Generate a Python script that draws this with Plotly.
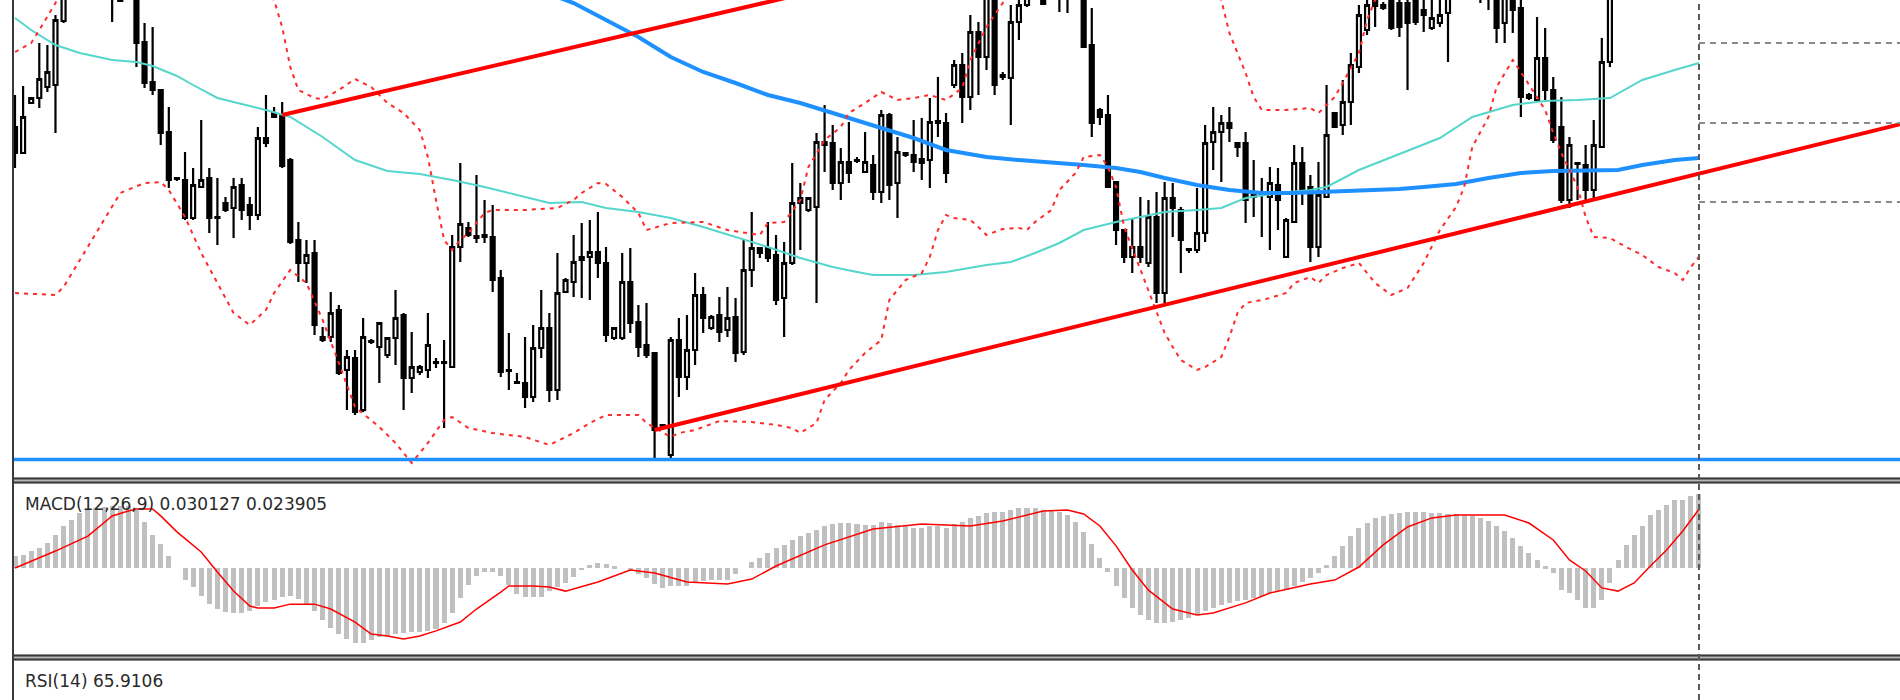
import plotly.graph_objects as go

# ---------------- price data (bar index = time) ----------------
opens = [
 1.2873,1.2847,1.2897,1.2902,1.2913,1.2915,1.2979,1.3005,1.3020,1.3035,
 1.3030,1.3040,1.3025,1.3010,1.3002,1.3008,1.2958,1.2918,1.2910,1.2868,
 1.2822,1.2820,1.2782,1.2813,1.2822,1.2783,1.2797,1.2792,1.2815,1.2795,
 1.2785,1.2862,1.2887,1.2885,1.2840,1.2760,1.2737,1.2747,1.2663,1.2663,
 1.2690,1.2630,1.2642,1.2590,1.2658,1.2653,1.2645,1.2662,1.2685,1.2622,
 1.2628,1.2630,1.2638,1.2638,1.2633,1.2753,1.2772,1.2764,1.2765,1.2763,
 1.2722,1.2630,1.2618,1.2617,1.2603,1.2652,1.2672,1.2610,1.2708,1.2718,
 1.2740,1.2743,1.2748,1.2737,1.2662,1.2662,1.2718,1.2678,1.2655,1.2647,
 1.2575,1.2545,1.2660,1.2623,1.2650,1.2705,1.2672,1.2685,1.2670,1.2683,
 1.2648,1.2730,1.2752,1.2752,1.2745,1.2702,1.2737,1.2802,1.2790,1.2793,
 1.2858,1.2857,1.2817,1.2838,1.2840,1.2828,1.2835,1.2808,1.2885,1.2817,
 1.2847,1.2845,1.2841,1.2840,1.2879,1.2877,1.2915,1.2935,1.2903,1.2968,
 1.2943,1.3005,1.2925,1.2922,1.2978,1.2995,1.3015,1.3008,1.3010,1.3005,
 1.3005,1.3008,1.3005,1.2955,1.2890,1.2885,1.2818,1.2770,1.2743,1.2753,
 1.2737,1.2783,1.2707,1.2802,1.2790,1.2750,1.2750,1.2767,1.2858,1.2868,
 1.2877,1.2857,1.2857,1.2805,1.2807,1.2803,1.2815,1.2743,1.2778,1.2837,
 1.2813,1.2753,1.2803,1.2887,1.2875,1.2898,1.2933,1.2970,1.3003,1.2995,
 1.3005,1.2997,1.2997,1.3003,1.2990,1.2972,1.2977,1.2987,1.3005,1.3015,
 1.3010,1.3020,1.3008,1.3005,1.2977,1.3005,1.2992,1.2905,1.2900,1.2942,
 1.2910,1.2873,1.2800,1.2837,1.2835,1.2810,1.2853,1.2938,1.3005,1.3030,
 1.3050,1.3045,1.3070,1.3090,1.3085,1.3110,1.3125,1.3115,1.3140]
highs = [
 1.2905,1.2914,1.2903,1.2957,1.2955,1.2985,1.3010,1.3030,1.3045,1.3050,
 1.3055,1.3050,1.3030,1.3015,1.3020,1.3012,1.2977,1.2973,1.2910,1.2893,
 1.2823,1.2848,1.2832,1.2880,1.2832,1.2822,1.2803,1.2822,1.2822,1.2803,
 1.2873,1.2905,1.2893,1.2898,1.2842,1.2778,1.2760,1.2760,1.2673,1.2708,
 1.2695,1.2650,1.2650,1.2682,1.2661,1.2678,1.2663,1.2710,1.2687,1.2668,
 1.2635,1.2687,1.2642,1.2660,1.2765,1.2837,1.2778,1.2825,1.2800,1.2795,
 1.2730,1.2667,1.2627,1.2663,1.2675,1.2710,1.2687,1.2747,1.2722,1.2765,
 1.2777,1.2780,1.2788,1.2753,1.2673,1.2747,1.2752,1.2695,1.2697,1.2647,
 1.2576,1.2663,1.2682,1.2685,1.2727,1.2713,1.2685,1.2703,1.2713,1.2702,
 1.2760,1.2788,1.2753,1.2778,1.2765,1.2758,1.2837,1.2817,1.2803,1.2867,
 1.2895,1.2875,1.2852,1.2878,1.2843,1.2868,1.2845,1.2890,1.2887,1.2863,
 1.2848,1.2880,1.2882,1.2902,1.2923,1.2887,1.2940,1.2947,1.2985,1.2978,
 1.3010,1.3010,1.2928,1.2995,1.3003,1.3008,1.3035,1.3015,1.3025,1.3025,
 1.3020,1.3020,1.3010,1.2992,1.2892,1.2905,1.2818,1.2770,1.2782,1.2803,
 1.2800,1.2808,1.2818,1.2817,1.2793,1.2752,1.2812,1.2875,1.2893,1.2885,
 1.2893,1.2858,1.2868,1.2840,1.2822,1.2833,1.2832,1.2782,1.2855,1.2853,
 1.2825,1.2838,1.2915,1.2888,1.2920,1.2947,1.2995,1.3003,1.3010,1.2998,
 1.3010,1.3005,1.3005,1.3010,1.3003,1.3003,1.3003,1.3010,1.3025,1.3030,
 1.3030,1.3030,1.3020,1.3010,1.3010,1.3010,1.3000,1.2907,1.2983,1.2972,
 1.2923,1.2903,1.2863,1.2838,1.2855,1.2880,1.2962,1.3015,1.3040,1.3060,
 1.3062,1.3075,1.3100,1.3100,1.3120,1.3135,1.3140,1.3150,1.3160]
lows = [
 1.2832,1.2846,1.2896,1.2892,1.2908,1.2867,1.2977,1.3003,1.3018,1.3022,
 1.3025,1.3020,1.2978,1.2998,1.3001,1.2933,1.2912,1.2905,1.2855,1.2812,
 1.2819,1.2780,1.2780,1.2813,1.2767,1.2755,1.2788,1.2762,1.2780,1.2770,
 1.2780,1.2853,1.2882,1.2832,1.2756,1.2718,1.2717,1.2665,1.2658,1.2658,
 1.2625,1.2590,1.2585,1.2588,1.2656,1.2617,1.2642,1.2635,1.2590,1.2607,
 1.2625,1.2622,1.2632,1.2572,1.2632,1.2738,1.2763,1.2757,1.2757,1.2708,
 1.2623,1.2610,1.2617,1.2592,1.2598,1.2642,1.2598,1.2600,1.2707,1.2703,
 1.2702,1.2700,1.2722,1.2658,1.2660,1.2660,1.2667,1.2643,1.2642,1.2542,
 1.2571,1.2540,1.2603,1.2610,1.2635,1.2667,1.2670,1.2658,1.2663,1.2638,
 1.2645,1.2713,1.2742,1.2738,1.2695,1.2663,1.2735,1.2750,1.2788,1.2697,
 1.2828,1.2810,1.2800,1.2817,1.2837,1.2827,1.2800,1.2797,1.2800,1.2782,
 1.2843,1.2828,1.2820,1.2812,1.2863,1.2817,1.2912,1.2877,1.2890,1.2905,
 1.2930,1.2905,1.2920,1.2875,1.2960,1.2993,1.3005,1.2995,1.3003,1.2988,
 1.2987,1.3001,1.2952,1.2863,1.2875,1.2812,1.2755,1.2737,1.2727,1.2737,
 1.2733,1.2697,1.2697,1.2763,1.2727,1.2747,1.2747,1.2758,1.2830,1.2818,
 1.2858,1.2843,1.2777,1.2783,1.2763,1.2750,1.2770,1.2742,1.2777,1.2795,
 1.2738,1.2743,1.2802,1.2872,1.2865,1.2875,1.2927,1.2965,1.2973,1.2990,
 1.2970,1.2963,1.2910,1.2975,1.2968,1.2970,1.2973,1.2938,1.3002,1.3005,
 1.3005,1.2997,1.2990,1.2957,1.2957,1.2967,1.2883,1.2900,1.2900,1.2900,
 1.2857,1.2797,1.2792,1.2800,1.2800,1.2800,1.2853,1.2933,1.3002,1.3028,
 1.3040,1.3043,1.3065,1.3080,1.3082,1.3105,1.3110,1.3112,1.3135]
closes = [
 1.2847,1.2883,1.2902,1.2921,1.2928,1.2980,1.3004,1.3020,1.3035,1.3030,
 1.3040,1.3025,1.3010,1.2999,1.3008,1.2957,1.2917,1.2910,1.2867,1.2820,
 1.2821,1.2782,1.2815,1.2820,1.2782,1.2782,1.2790,1.2813,1.2790,1.2785,
 1.2862,1.2857,1.2883,1.2834,1.2758,1.2737,1.2745,1.2675,1.2660,1.2687,
 1.2627,1.2643,1.2588,1.2663,1.2659,1.2677,1.2662,1.2682,1.2622,1.2633,
 1.2633,1.2655,1.2637,1.2637,1.2753,1.2776,1.2765,1.2762,1.2763,1.2720,
 1.2628,1.2629,1.2617,1.2603,1.2652,1.2672,1.2610,1.2707,1.2720,1.2738,
 1.2743,1.2748,1.2737,1.2665,1.2672,1.2718,1.2677,1.2653,1.2645,1.2570,
 1.2572,1.2660,1.2623,1.2650,1.2705,1.2682,1.2683,1.2668,1.2682,1.2647,
 1.2730,1.2752,1.2747,1.2742,1.2700,1.2737,1.2797,1.2797,1.2802,1.2858,
 1.2855,1.2817,1.2838,1.2827,1.2839,1.2838,1.2808,1.2885,1.2815,1.2848,
 1.2845,1.2838,1.2837,1.2878,1.2877,1.2827,1.2935,1.2903,1.2968,1.2943,
 1.3003,1.2915,1.2923,1.2978,1.2995,1.3003,1.3025,1.2996,1.3018,1.3015,
 1.3012,1.3003,1.2953,1.2877,1.2883,1.2813,1.2770,1.2743,1.2753,1.2743,
 1.2783,1.2707,1.2802,1.2792,1.2760,1.2751,1.2767,1.2857,1.2868,1.2877,
 1.2872,1.2853,1.2800,1.2803,1.2805,1.2817,1.2800,1.2780,1.2837,1.2810,
 1.2753,1.2805,1.2865,1.2873,1.2898,1.2935,1.2985,1.2995,1.2994,1.2992,
 1.2972,1.2973,1.2977,1.2978,1.2985,1.2982,1.2985,1.3005,1.3015,1.3010,
 1.3020,1.3008,1.3012,1.2972,1.3005,1.2990,1.2903,1.2902,1.2942,1.2910,
 1.2860,1.2800,1.2855,1.2836,1.2810,1.2855,1.2938,1.3005,1.3030,1.3050,
 1.3045,1.3070,1.3090,1.3085,1.3110,1.3125,1.3115,1.3140,1.3150]
bars = list(range(len(opens)))

# moving averages (read at bar indices)
ma_fast_bar = [0,2,5,8,12,15,17,20,22,25, 28,31,34,38,42,46,50,54,58,63,
               66,70,73,77,81,85,89,93,97,101, 104,106,111,115,120,123,126,129,132,136,
               139,142,146,149,152,156,160,162,166,170, 173,176,180,185,189,193,197,201,205,208]
ma_fast = [1.2982,1.2970,1.2955,1.2947,1.2940,1.2938,1.2934,1.2924,1.2915,1.2902,
           1.2896,1.2890,1.2883,1.2863,1.2840,1.2829,1.2826,1.2820,1.2813,1.2803,
           1.2797,1.2798,1.2792,1.2788,1.2782,1.2773,1.2763,1.2753,1.2742,1.2733,
           1.2728,1.2725,1.2725,1.2728,1.2735,1.2738,1.2747,1.2757,1.2770,1.2778,
           1.2783,1.2788,1.2790,1.2792,1.2802,1.2807,1.2810,1.2813,1.2830,1.2843,
           1.2852,1.2862,1.2883,1.2895,1.2899,1.2900,1.2902,1.2920,1.2930,1.2937]
ma_slow_bar = [60,67,69,73,77,81,85,89,93,97, 101,104,107,111,115,120,124,128,132,136,
               139,142,146,150,154,158,162,166,171,174, 178,182,186,190,195,198,201,205,208]
ma_slow = [1.3033,1.3003,1.2997,1.2980,1.2963,1.2943,1.2928,1.2917,1.2905,1.2897,
           1.2887,1.2880,1.2872,1.2862,1.2850,1.2843,1.2840,1.2838,1.2835,1.2832,
           1.2828,1.2822,1.2815,1.2810,1.2807,1.2807,1.2808,1.2809,1.2811,1.2813,
           1.2816,1.2822,1.2827,1.2829,1.2829,1.2830,1.2835,1.2840,1.2842]

# Bollinger bands
bb_up_bar = [0,2,3,5,7,17,27,32,33,34, 35,37,38,40,42,44,46,48,50,51,
             52,53,54,55,56,58,59,63,67,69, 70,72,73,75,77,78,81,85,88,92,
             93,95,97,98,100,102,103,105,107,109, 111,113,115,117,118,120,122,128,140,148,
             149,150,152,153,154,157,160,161,163,164, 166,167,168,177,190,208]
bb_up = [1.2948,1.2957,1.2970,1.2997,1.3030,1.3050,1.3030,1.3000,1.2973,1.2933,
         1.2910,1.2902,1.2901,1.2910,1.2921,1.2913,1.2897,1.2887,1.2870,1.2843,
         1.2800,1.2760,1.2750,1.2760,1.2767,1.2787,1.2790,1.2790,1.2792,1.2800,
         1.2807,1.2817,1.2816,1.2803,1.2787,1.2770,1.2777,1.2778,1.2770,1.2765,
         1.2777,1.2778,1.2800,1.2833,1.2860,1.2873,1.2887,1.2897,1.2908,1.2900,
         1.2902,1.2905,1.2900,1.2912,1.2940,1.2973,1.2997,1.3040,1.3060,1.3020,
         1.3000,1.2967,1.2927,1.2903,1.2890,1.2890,1.2892,1.2887,1.2903,1.2917,
         1.2947,1.2980,1.3000,1.3080,1.3120,1.3150]
bb_lo_bar = [0,5,6,8,10,12,13,16,18,19, 21,23,25,27,29,31,32,34,36,38,
             40,42,45,47,49,51,53,54,56,59, 63,66,69,71,73,77,78,81,82,84,
             87,91,94,96,97,99,100,102,103,105, 107,108,110,112,113,114,115,116,118,119,
             120,122,124,125,126,128,129,131,132,134, 135,136,137,139,141,142,143,144,146,147,
             149,150,151,152,154,155,157,158,160,161, 162,164,166,168,170,172,174,176,178,179,
             180,182,183,185,186,187,189,190,191,193, 194,195,197,199,201,203,205,206,207,208]
bb_lo = [1.2707,1.2705,1.2713,1.2740,1.2767,1.2793,1.2807,1.2817,1.2818,1.2810,
         1.2783,1.2747,1.2717,1.2687,1.2675,1.2690,1.2707,1.2730,1.2717,1.2680,
         1.2637,1.2593,1.2573,1.2557,1.2537,1.2557,1.2580,1.2583,1.2572,1.2567,
         1.2563,1.2555,1.2567,1.2577,1.2585,1.2585,1.2577,1.2563,1.2567,1.2570,
         1.2579,1.2578,1.2575,1.2572,1.2567,1.2577,1.2600,1.2617,1.2630,1.2647,
         1.2660,1.2700,1.2720,1.2727,1.2743,1.2770,1.2785,1.2782,1.2780,1.2773,
         1.2765,1.2771,1.2772,1.2770,1.2778,1.2790,1.2810,1.2827,1.2843,1.2845,
         1.2833,1.2813,1.2773,1.2730,1.2687,1.2667,1.2653,1.2640,1.2630,1.2633,
         1.2643,1.2663,1.2687,1.2697,1.2700,1.2702,1.2707,1.2717,1.2723,1.2717,
         1.2725,1.2732,1.2737,1.2717,1.2705,1.2712,1.2737,1.2770,1.2793,1.2813,
         1.2853,1.2883,1.2913,1.2940,1.2928,1.2915,1.2890,1.2867,1.2847,1.2813,
         1.2783,1.2763,1.2762,1.2753,1.2745,1.2733,1.2727,1.2720,1.2733,1.2743]

# trend lines, levels
trend_hi_bar = [33, 110]
trend_hi = [1.2885, 1.3030]
trend_lo_bar = [79, 235]
trend_lo = [1.2570, 1.2880]
support_level = 1.25405
right_levels = [1.2957, 1.2877, 1.2798]
cursor_bar = 208

# MACD (values in units of 1e-4)
macd_main_e4 = [
 49,53,69,81,102,134,171,195,224,236,
 244,248,252,252,252,236,187,134,98,49,
 0,-49,-77,-114,-147,-167,-179,-183,-183,-175,
 -155,-138,-130,-118,-114,-126,-147,-175,-212,-244,
 -269,-289,-305,-305,-293,-281,-277,-269,-265,-260,
 -260,-256,-248,-224,-183,-122,-69,-33,-16,-16,
 -33,-69,-106,-118,-118,-118,-94,-77,-61,-37,
 -8,12,20,16,8,0,-12,-24,-41,-65,
 -81,-73,-73,-73,-61,-53,-49,-49,-49,-24,
 0,24,41,61,81,94,114,130,142,155,
 171,179,183,183,179,175,175,187,183,175,
 171,163,163,171,171,163,179,187,204,212,
 224,228,228,236,244,244,244,236,236,228,
 216,187,147,98,41,-16,-73,-122,-163,-191,
 -212,-224,-224,-220,-212,-204,-191,-175,-163,-151,
 -142,-134,-130,-122,-114,-102,-94,-90,-73,-57,
 -41,-20,12,49,90,130,163,183,204,212,
 220,224,228,228,228,224,224,220,220,216,
 212,204,191,171,151,122,90,61,33,8,
 -20,-90,-102,-130,-163,-163,-130,-61,33,94,
 134,171,216,236,256,277,277,293,301]
macd_sig_bar = [0,3,5,9,12,14,15,17,18,20, 23,25,27,29,30,32,34,37,39,42,
                44,46,48,50,52,55,57,60,61,64, 66,68,70,72,76,79,83,88,91,94,
                100,106,112,118,122,127,130,132,134,136, 138,140,143,146,148,152,155,160,163,166,
                169,172,175,178,184,187,190,192,194,196, 198,200,202,204,206,207,208]
macd_sig_e4 = [0,41,69,130,212,232,240,240,212,147, 65,-16,-94,-155,-163,-163,-147,-147,-167,-220,
               -269,-277,-289,-277,-256,-220,-167,-98,-73,-73, -77,-94,-77,-57,-8,-20,-57,-65,-45,8,
               94,159,179,171,191,232,236,220,171,90, -8,-90,-167,-191,-183,-142,-102,-65,-49,4,
               94,167,204,216,216,183,114,33,-12,-81, -94,-61,8,73,151,195,239]

macd_label = "MACD(12,26,9) 0.030127 0.023905"
rsi_label = "RSI(14) 65.9106"

# ---------------- layout geometry ----------------
W, H = 1900, 700
def yp(pix):
    return 1 - pix / H
X0 = 14 / W
xr = [-0.1235, 232.83]

fig = go.Figure()
fig.add_trace(go.Candlestick(
    x=bars, open=opens, high=highs, low=lows, close=closes,
    increasing=dict(line=dict(color="#000000", width=2.2), fillcolor="#ffffff"),
    decreasing=dict(line=dict(color="#000000", width=2.2), fillcolor="#000000"),
    whiskerwidth=0, hoverinfo="skip", xaxis="x", yaxis="y"))

fig.add_trace(go.Scatter(x=ma_fast_bar, y=ma_fast, mode="lines",
                         line=dict(color="#55d6cc", width=2), xaxis="x", yaxis="y"))
fig.add_trace(go.Scatter(x=ma_slow_bar, y=ma_slow, mode="lines",
                         line=dict(color="#1e90ff", width=4), xaxis="x", yaxis="y"))
for bx, by in ((bb_up_bar, bb_up), (bb_lo_bar, bb_lo)):
    fig.add_trace(go.Scatter(x=bx, y=by, mode="lines",
                             line=dict(color="#ff2a2a", width=2, dash="4px,5px"),
                             xaxis="x", yaxis="y"))
for bx, by in ((trend_hi_bar, trend_hi), (trend_lo_bar, trend_lo)):
    fig.add_trace(go.Scatter(x=bx, y=by, mode="lines",
                             line=dict(color="#ff0000", width=4), xaxis="x", yaxis="y"))

fig.add_trace(go.Bar(x=bars, y=[v * 1e-4 for v in macd_main_e4], width=0.62,
                     marker=dict(color="#c0c0c0", line=dict(width=0)),
                     xaxis="x2", yaxis="y2"))
fig.add_trace(go.Scatter(x=macd_sig_bar, y=[v * 1e-4 for v in macd_sig_e4], mode="lines",
                         line=dict(color="#ff0000", width=1.5), xaxis="x2", yaxis="y2"))

shapes = []
# blue support line
shapes.append(dict(type="line", xref="paper", yref="y", x0=X0, x1=1,
                   y0=support_level, y1=support_level,
                   line=dict(color="#1e90ff", width=3.5)))
# right-hand dashed levels
for lv in right_levels:
    shapes.append(dict(type="line", xref="x", yref="y", x0=cursor_bar, x1=xr[1],
                       y0=lv, y1=lv, line=dict(color="#8a8a8a", width=2, dash="6px,5px")))
# panel separators
for top, bot in ((477.5, 483.5), (654.5, 660.5)):
    shapes.append(dict(type="rect", xref="paper", yref="paper", x0=12 / W, x1=1,
                       y0=yp(bot), y1=yp(top), fillcolor="#b4b4b4", line=dict(width=0)))
    for yy in (top + 1, bot - 1):
        shapes.append(dict(type="line", xref="paper", yref="paper", x0=12 / W, x1=1,
                           y0=yp(yy), y1=yp(yy), line=dict(color="#3a3a3a", width=2)))
# left border
shapes.append(dict(type="line", xref="paper", yref="paper", x0=13 / W, x1=13 / W,
                   y0=0, y1=1, line=dict(color="#3a3a3a", width=2)))
# vertical dashed cursor line
shapes.append(dict(type="line", xref="x", yref="paper", x0=cursor_bar, x1=cursor_bar,
                   y0=0, y1=1, line=dict(color="#5a5a5a", width=2, dash="6px,4px")))

annotations = [
    dict(text=macd_label, xref="paper", yref="paper", x=23 / W, y=yp(504),
         xanchor="left", yanchor="middle", showarrow=False,
         font=dict(family="DejaVu Sans", size=17, color="#2a2a2a")),
    dict(text=rsi_label, xref="paper", yref="paper", x=23 / W, y=yp(680.5),
         xanchor="left", yanchor="middle", showarrow=False,
         font=dict(family="DejaVu Sans", size=17, color="#2a2a2a")),
]

fig.update_layout(
    width=W, height=H, margin=dict(l=0, r=0, t=0, b=0),
    paper_bgcolor="#ffffff", plot_bgcolor="#ffffff", showlegend=False,
    boxgap=0.3, bargap=0, hovermode=False,
    xaxis=dict(domain=[X0, 1], range=xr, visible=False, anchor="y",
               rangeslider=dict(visible=False)),
    yaxis=dict(domain=[yp(478), 1], range=[1.2522, 1.3000], visible=False, anchor="x"),
    xaxis2=dict(domain=[X0, 1], range=xr, visible=False, anchor="y2"),
    yaxis2=dict(domain=[yp(654), yp(483)], range=[-0.0350, 0.0346], visible=False, anchor="x2"),
    shapes=shapes, annotations=annotations,
)

fig.write_html("out.html")
